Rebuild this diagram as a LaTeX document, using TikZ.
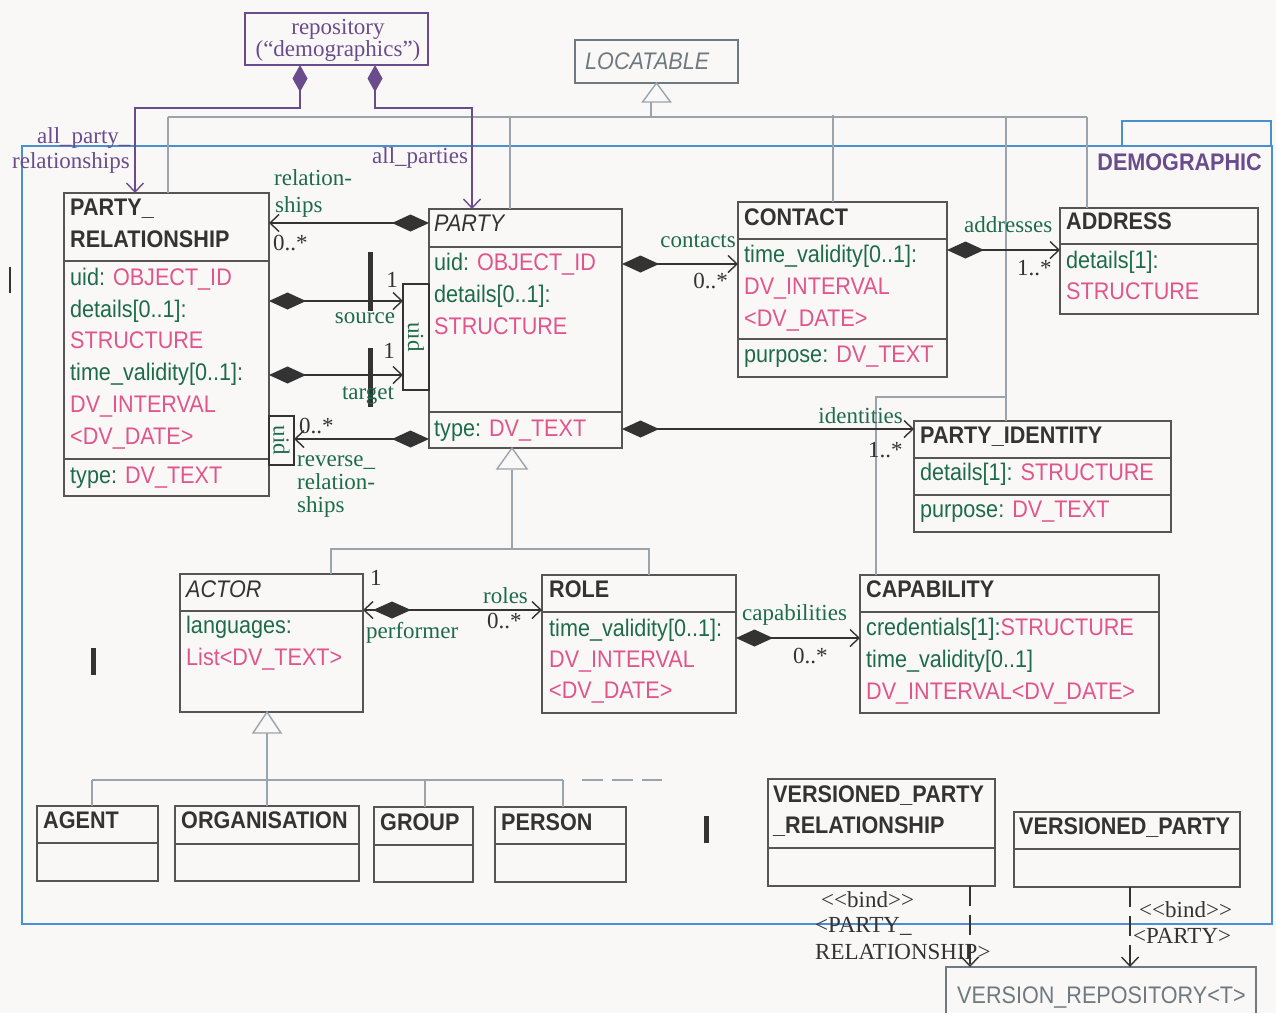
\documentclass[tikz,border=0pt]{standalone}
\usepackage{fontspec}
\setmainfont{Liberation Serif}
\newfontfamily\nsans[FakeStretch=0.9]{Liberation Sans}
\usetikzlibrary{arrows.meta}
\definecolor{bg}{HTML}{F9F8F7}
\definecolor{gtx}{HTML}{1E6B4C}
\definecolor{pk}{HTML}{E0558C}
\definecolor{pu}{HTML}{6A4C8C}
\definecolor{gl}{HTML}{9AA4AC}
\definecolor{bl}{HTML}{4A90D0}
\definecolor{dk}{HTML}{333333}
\definecolor{bx}{HTML}{555555}
\definecolor{lg}{HTML}{6E7A80}
\newcommand{\ssz}{\fontsize{24}{28}\selectfont}
\newcommand{\lsz}{\fontsize{23}{23}\selectfont}
\newcommand{\pk}[1]{\textcolor{pk}{#1}}
\tikzset{
 box/.style={draw=bx, line width=1.3pt, fill=bg, inner sep=0pt, outer sep=0pt, anchor=north west},
 sepl/.style={draw=bx, line width=1.3pt},
 hdr/.style={anchor=base west, inner sep=0pt, font=\nsans\ssz\bfseries, text=dk},
 ihdr/.style={anchor=base west, inner sep=0pt, font=\nsans\ssz\itshape, text=dk},
 att/.style={anchor=base west, inner sep=0pt, font=\nsans\ssz, text=gtx},
 lbl/.style={anchor=base west, inner sep=0pt, font=\lsz, text=gtx},
 mul/.style={anchor=base west, inner sep=0pt, font=\lsz, text=dk},
 plbl/.style={anchor=base west, inner sep=0pt, font=\lsz, text=pu},
 gen/.style={draw=gl, line width=1.6pt},
 tri/.style={draw=gl, line width=1.4pt, fill=bg},
 qual/.style={draw=dk, line width=2pt, inner sep=0pt, outer sep=0pt, anchor=north west},
 assoc/.style={draw=dk, line width=2pt, {Diamond[length=37pt,width=17pt]}-{Straight Barb[length=9pt,width=17pt,line width=1.4pt]}},
 pcomp/.style={draw=pu, line width=2pt, {Diamond[length=27pt,width=15pt]}-{Straight Barb[length=9pt,width=17pt,line width=1.4pt]}},
 bind/.style={draw=dk, line width=1.6pt, dash pattern=on 20pt off 9pt, -{Straight Barb[length=9pt,width=17pt,line width=1.4pt]}},
 barmark/.style={draw=dk, line width=5pt},
}
\begin{document}
\begin{tikzpicture}[x=1pt,y=-1pt]
\fill[bg] (0,0) rectangle (1276,1013);
\useasboundingbox (0,0) rectangle (1276,1013);

% package
\draw[bl, line width=2pt] (22,146) rectangle (1272,924);
\draw[bl, line width=2pt] (1122,146) -- (1122,121) -- (1271,121) -- (1271,146);
\node[anchor=base east, inner sep=0pt, font=\nsans\ssz\bfseries, text=pu] (demo) at (1262,170) {DEMOGRAPHIC};

% top boxes
\node[box, draw=pu, line width=2pt, minimum width=183pt, minimum height=52pt] (repo) at (245,13) {};
\node[plbl, anchor=base] (repoT1) at (338,34) {repository};
\node[plbl, anchor=base] (repoT2) at (338,56) {(“demographics”)};
\node[box, draw=lg, line width=2pt, minimum width=163pt, minimum height=43pt] (loc) at (575,40) {};
\node[anchor=base west, inner sep=0pt, font=\nsans\ssz\itshape, text=lg] (locT) at (585,69) {LOCATABLE};

% class boxes
\node[box, minimum width=205pt, minimum height=303pt] (prel) at (64,193) {};
\node[box, minimum width=193pt, minimum height=239pt] (party) at (429,209) {};
\node[box, minimum width=209pt, minimum height=175pt] (contact) at (738,202) {};
\node[box, minimum width=198pt, minimum height=106pt] (address) at (1060,208) {};
\node[box, minimum width=257pt, minimum height=111pt] (pident) at (914,421) {};
\node[box, minimum width=299pt, minimum height=138pt] (cap) at (860,575) {};
\node[box, minimum width=194pt, minimum height=138pt] (role) at (542,575) {};
\node[box, minimum width=183pt, minimum height=138pt] (actor) at (180,574) {};
\node[box, minimum width=121pt, minimum height=75pt] (agent) at (37,806) {};
\node[box, minimum width=184pt, minimum height=75pt] (org) at (175,806) {};
\node[box, minimum width=99pt, minimum height=75pt] (group) at (374,807) {};
\node[box, minimum width=131pt, minimum height=75pt] (person) at (495,807) {};
\node[box, minimum width=227pt, minimum height=107pt] (vpr) at (768,779) {};
\node[box, minimum width=226pt, minimum height=75pt] (vp) at (1014,812) {};
\node[inner sep=0pt, outer sep=0pt, anchor=north west, minimum width=310pt, minimum height=46pt] (vrepo) at (946,967) {};
\draw[lg, line width=2pt] (vrepo.south west) -- (vrepo.north west) -- (vrepo.north east) -- (vrepo.south east);

% separators
\draw[sepl] (64,261) -- (269,261) (64,459) -- (269,459);
\draw[sepl] (429,247) -- (622,247) (429,412) -- (622,412);
\draw[sepl] (738,239) -- (947,239) (738,339) -- (947,339);
\draw[sepl] (1060,244) -- (1258,244);
\draw[sepl] (914,458) -- (1171,458) (914,495) -- (1171,495);
\draw[sepl] (860,612) -- (1159,612);
\draw[sepl] (542,612) -- (736,612);
\draw[sepl] (180,611) -- (363,611);
\draw[sepl] (37,843) -- (158,843);
\draw[sepl] (175,844) -- (359,844);
\draw[sepl] (374,845) -- (473,845);
\draw[sepl] (495,844) -- (626,844);
\draw[sepl] (768,848) -- (995,848);
\draw[sepl] (1014,849) -- (1240,849);

% generalisation lines to LOCATABLE
\draw[tri] (loc.south) -- ++(-14,19) -- ++(28,0) -- cycle;
\draw[gen] (651,102) -- (651,117);
\draw[gen] (168,117) -- (1087,117);
\draw[gen] (168,117) -- (prel.north -| 168,0);
\draw[gen] (510,117) -- (party.north -| 510,0);
\draw[gen] (833,115) -- (contact.north -| 833,0);
\draw[gen] (1087,117) -- (address.north -| 1087,0);
\draw[gen] (1006,117) -- (pident.north -| 1006,0);
\draw[gen] (1006,397) -- (876,397) -- (cap.north -| 876,0);

% generalisation to PARTY
\draw[tri] (party.south -| 512,0) -- ++(-15,21) -- ++(30,0) -- cycle;
\draw[gen] (512,470) -- (512,549);
\draw[gen] (actor.north -| 331,0) -- (331,549) -- (649,549) -- (role.north -| 649,0);

% generalisation to ACTOR
\draw[tri] (actor.south -| 267,0) -- ++(-14,21) -- ++(28,0) -- cycle;
\draw[gen] (267,733) -- (267,780);
\draw[gen] (92,780) -- (563,780);
\draw[gen] (92,780) -- (agent.north -| 92,0);
\draw[gen] (267,780) -- (org.north -| 267,0);
\draw[gen] (425,780) -- (group.north -| 425,0);
\draw[gen] (563,780) -- (person.north -| 563,0);
\draw[gen, dash pattern=on 21pt off 9pt] (582,780) -- (662,780);

% class texts
\node[hdr] (prelH1) at (70,215) {PARTY\_};
\node[hdr] (prelH2) at (70,247) {RELATIONSHIP};
\node[att] (prelA1) at (70,285) {uid: \pk{OBJECT\_ID}};
\node[att] (prelA2) at (70,317) {details[0..1]:};
\node[att] (prelA3) at (70,348) {\pk{STRUCTURE}};
\node[att] (prelA4) at (70,380) {time\_validity[0..1]:};
\node[att] (prelA5) at (70,412) {\pk{DV\_INTERVAL}};
\node[att] (prelA6) at (70,444) {\pk{<DV\_DATE>}};
\node[att] (prelA7) at (70,483) {type: \pk{DV\_TEXT}};

\node[ihdr] (partyH) at (434,231) {PARTY};
\node[att] (partyA1) at (434,270) {uid: \pk{OBJECT\_ID}};
\node[att] (partyA2) at (434,302) {details[0..1]:};
\node[att] (partyA3) at (434,334) {\pk{STRUCTURE}};
\node[att] (partyA4) at (434,436) {type: \pk{DV\_TEXT}};

\node[hdr] (contactH) at (744,225) {CONTACT};
\node[att] (contactA1) at (744,262) {time\_validity[0..1]:};
\node[att] (contactA2) at (744,294) {\pk{DV\_INTERVAL}};
\node[att] (contactA3) at (744,326) {\pk{<DV\_DATE>}};
\node[att] (contactA4) at (744,362) {purpose: \pk{DV\_TEXT}};

\node[hdr] (addressH) at (1066,229) {ADDRESS};
\node[att] (addressA1) at (1066,268) {details[1]:};
\node[att] (addressA2) at (1066,299) {\pk{STRUCTURE}};

\node[hdr] (pidentH) at (920,443) {PARTY\_IDENTITY};
\node[att] (pidentA1) at (920,480) {details[1]: \pk{STRUCTURE}};
\node[att] (pidentA2) at (920,517) {purpose: \pk{DV\_TEXT}};

\node[hdr] (capH) at (866,597) {CAPABILITY};
\node[att] (capA1) at (866,635) {credentials[1]:\pk{STRUCTURE}};
\node[att] (capA2) at (866,667) {time\_validity[0..1]};
\node[att] (capA3) at (866,699) {\pk{DV\_INTERVAL<DV\_DATE>}};

\node[hdr] (roleH) at (549,597) {ROLE};
\node[att] (roleA1) at (549,636) {time\_validity[0..1]:};
\node[att] (roleA2) at (549,667) {\pk{DV\_INTERVAL}};
\node[att] (roleA3) at (549,698) {\pk{<DV\_DATE>}};

\node[ihdr] (actorH) at (186,597) {ACTOR};
\node[att] (actorA1) at (186,633) {languages:};
\node[att] (actorA2) at (186,665) {\pk{List<DV\_TEXT>}};

\node[hdr] (agentH) at (43,828) {AGENT};
\node[hdr] (orgH) at (181,828) {ORGANISATION};
\node[hdr] (groupH) at (380,830) {GROUP};
\node[hdr] (personH) at (501,830) {PERSON};
\node[hdr] (vprH1) at (773,802) {VERSIONED\_PARTY};
\node[hdr] (vprH2) at (773,833) {\_RELATIONSHIP};
\node[hdr] (vpH) at (1019,834) {VERSIONED\_PARTY};
\node[anchor=base west, inner sep=0pt, font=\nsans\ssz, text=lg] (vrepoT) at (957,1003) {VERSION\_REPOSITORY<T>};

% repository compositions
\draw[pcomp] (repo.south -| 300,0) -- (300,108) -- (135,108) -- (prel.north -| 135,0);
\draw[pcomp] (repo.south -| 375,0) -- (375,108) -- (472,108) -- (party.north -| 472,0);
\node[plbl] (lAPR1) at (37,143) {all\_party\_};
\node[plbl] (lAPR2) at (12,168) {relationships};
\node[plbl] (lAP) at (372,163) {all\_parties};

% qualifiers
\node[qual, minimum width=26pt, minimum height=106pt] (qP) at (403,284) {};
\node[rotate=-90, inner sep=0pt, font=\lsz, text=gtx] (qPT) at (qP.center) {uid};
\node[qual, minimum width=25pt, minimum height=49pt] (qR) at (269,416) {};
\node[rotate=-90, inner sep=0pt, font=\lsz, text=gtx] (qRT) at (qR.center) {uid};

% associations
\draw[assoc] (party.west |- 0,223) -- (prel.east |- 0,223);
\node[lbl] (lRel1) at (274,185) {relation-};
\node[lbl] (lRel2) at (275,212) {ships};
\node[mul] (mRel) at (273,250) {0..*};

\draw[assoc] (prel.east |- 0,301) -- (qP.west |- 0,301);
\draw[barmark] (370,252) -- (370,311);
\node[mul, anchor=base] (mSrc) at (392,287) {1};
\node[lbl, anchor=base] (lSrc) at (365,323) {source};

\draw[assoc] (prel.east |- 0,375) -- (qP.west |- 0,375);
\draw[barmark] (370,348) -- (370,407);
\node[mul, anchor=base] (mTgt) at (389,358) {1};
\node[lbl, anchor=base] (lTgt) at (368,399) {target};

\draw[assoc] (party.west |- 0,439) -- (qR.east |- 0,439);
\node[mul] (mRev) at (299,433) {0..*};
\node[lbl] (lRev1) at (297,466) {reverse\_};
\node[lbl] (lRev2) at (297,489) {relation-};
\node[lbl] (lRev3) at (297,512) {ships};

\draw[assoc] (party.east |- 0,264) -- (contact.west |- 0,264);
\node[lbl, anchor=base east] (lCon) at (736,247) {contacts};
\node[mul, anchor=base east] (mCon) at (728,288) {0..*};

\draw[assoc] (contact.east |- 0,250) -- (address.west |- 0,250);
\node[lbl] (lAdr) at (964,232) {addresses};
\node[mul] (mAdr) at (1017,275) {1..*};

\draw[assoc] (party.east |- 0,429) -- (pident.west |- 0,429);
\node[lbl, anchor=base east] (lId) at (903,423) {identities};
\node[mul] (mId) at (868,457) {1..*};

\draw[assoc] (role.east |- 0,638) -- (cap.west |- 0,638);
\node[lbl] (lCap) at (742,620) {capabilities};
\node[mul] (mCap) at (793,663) {0..*};

\draw[draw=dk, line width=2pt, {Straight Barb[length=9pt,width=17pt,line width=1.4pt]}-{Straight Barb[length=9pt,width=17pt,line width=1.4pt]}] (actor.east |- 0,610) -- (role.west |- 0,610);
\fill[dk] (373,610) -- (392,601.5) -- (411,610) -- (392,618.5) -- cycle;
\node[mul] (mPerf) at (370,585) {1};
\node[lbl] (lPerf) at (366,638) {performer};
\node[lbl] (lRoles) at (483,603) {roles};
\node[mul] (mRoles) at (487,628) {0..*};

% bind
\draw[bind] (vpr.south -| 970,0) -- (vrepo.north -| 970,0);
\draw[bind] (vp.south -| 1130,0) -- (vrepo.north -| 1130,0);
\node[mul] (b1a) at (821,907) {<{}<bind>{}>};
\node[mul] (b1b) at (815,932) {<PARTY\_};
\node[mul] (b1c) at (815,959) {RELATIONSHIP>};
\node[mul] (b2a) at (1139,917) {<{}<bind>{}>};
\node[mul] (b2b) at (1133,943) {<PARTY>};

% stray marks
\draw[draw=dk, line width=2.5pt] (10,267) -- (10,293);
\draw[barmark] (93,648) -- (93,675);
\draw[barmark] (706,816) -- (706,843);
\end{tikzpicture}
\end{document}
